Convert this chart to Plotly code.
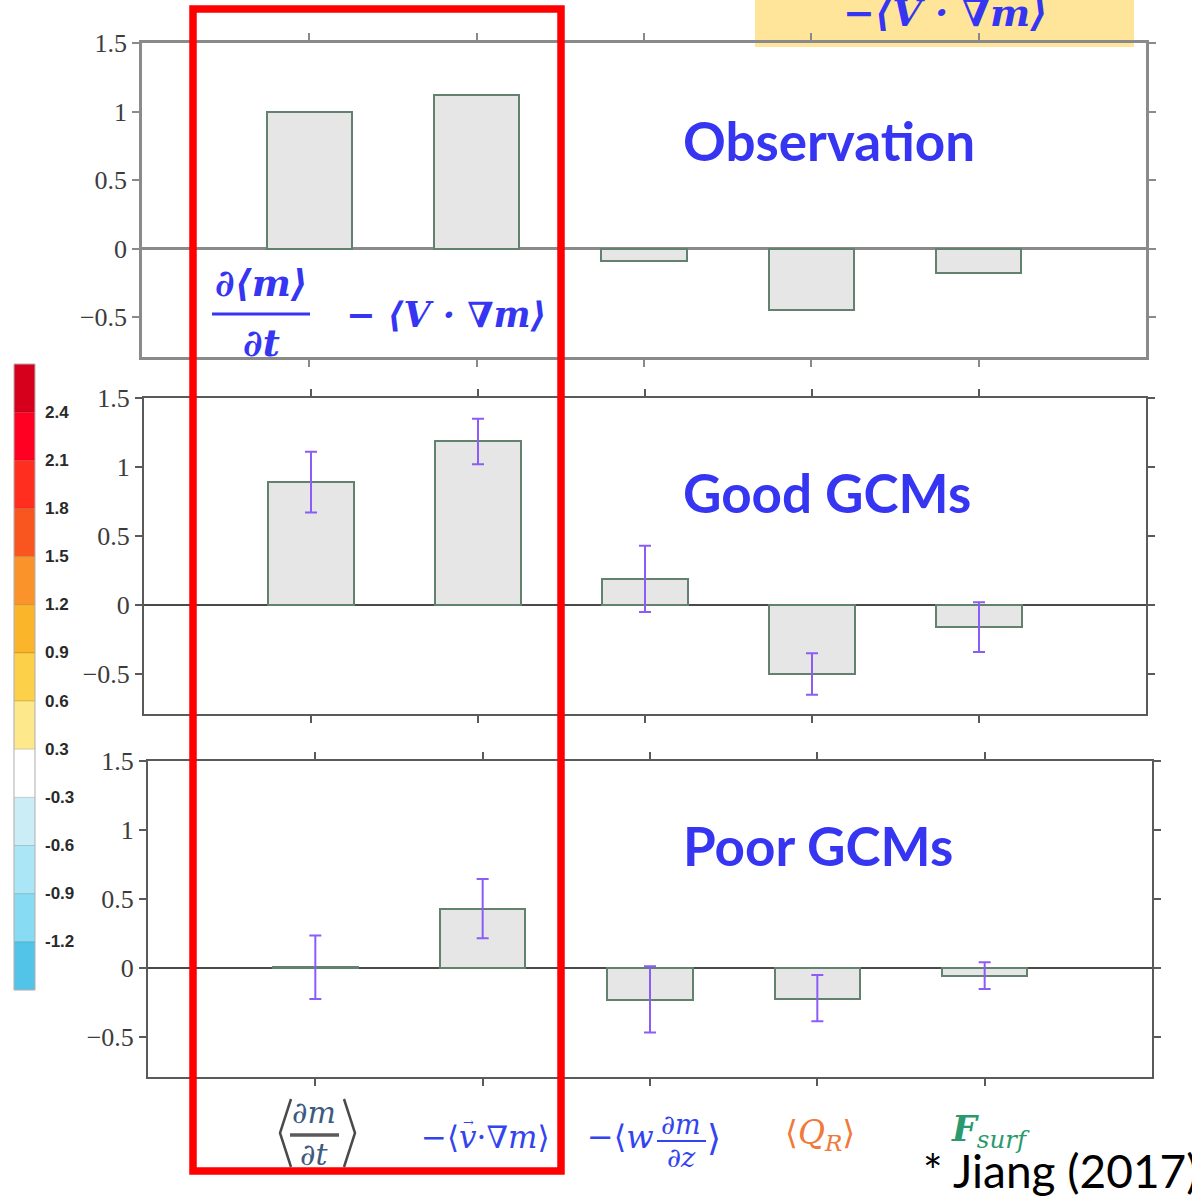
import plotly.graph_objects as go

W, H = 1192, 1197

# ---- data -------------------------------------------------------------
terms = [1, 2, 3, 4, 5]

obs_vals = [1.00, 1.12, -0.09, -0.445, -0.175]

good_vals = [0.89, 1.19, 0.19, -0.50, -0.16]
good_err_up = [0.22, 0.16, 0.24, 0.15, 0.18]
good_err_dn = [0.22, 0.17, 0.24, 0.15, 0.18]

poor_vals = [0.005, 0.43, -0.233, -0.226, -0.058]
poor_err_up = [0.23, 0.215, 0.245, 0.175, 0.10]
poor_err_dn = [0.23, 0.215, 0.235, 0.16, 0.095]

panel_names = ["Observation", "Good GCMs", "Poor GCMs"]

y_tickvals = [-0.5, 0, 0.5, 1, 1.5]
y_ticktext = ["\u22120.5", "0", "0.5", "1", "1.5"]

cbar_colors = ["#d6001c", "#ff0022", "#ff2e1f", "#f9561f", "#fa942a", "#fab52a",
               "#fdd04a", "#fde88c", "#ffffff", "#cbeef6", "#abe6f7", "#87dcf4", "#52c4e8"]
cbar_labels = ["2.4", "2.1", "1.8", "1.5", "1.2", "0.9", "0.6", "0.3",
               "-0.3", "-0.6", "-0.9", "-1.2"]


def px(x):
    return x / W


def py(y):
    return 1 - y / H


# ---- panels -------------------------------------------------------------
BAR_FILL = "#e6e6e6"
BAR_EDGE = "#62826f"
ERR_COLOR = "#8b5cf6"

fig = go.Figure()

panels = [
    dict(vals=obs_vals, up=None, dn=None, xdom=(142, 1146), ydom=(43, 357),
         axcol="#8a8a8a", axw=2.5, zcol="#8a8a8a", zw=3),
    dict(vals=good_vals, up=good_err_up, dn=good_err_dn, xdom=(144, 1146), ydom=(398, 714),
         axcol="#5a5a5a", axw=2, zcol="#4a4a4a", zw=2),
    dict(vals=poor_vals, up=poor_err_up, dn=poor_err_dn, xdom=(148, 1152), ydom=(761, 1077),
         axcol="#5a5a5a", axw=2, zcol="#4a4a4a", zw=2),
]

for i, p in enumerate(panels):
    sfx = "" if i == 0 else str(i + 1)
    err = None
    if p["up"] is not None:
        err = dict(type="data", symmetric=False, array=p["up"], arrayminus=p["dn"],
                   color=ERR_COLOR, thickness=2, width=6)
    fig.add_trace(go.Bar(
        x=terms, y=p["vals"], width=0.51, error_y=err,
        marker=dict(color=BAR_FILL, line=dict(color=BAR_EDGE, width=2)),
        xaxis="x" + sfx, yaxis="y" + sfx, showlegend=False,
    ))
    fig.update_layout(**{
        "xaxis" + sfx: dict(
            domain=[px(p["xdom"][0]), px(p["xdom"][1])], range=[0, 6],
            anchor="y" + sfx, tickvals=terms, showticklabels=False,
            ticks="outside", ticklen=7, tickwidth=2, tickcolor=p["axcol"],
            showline=True, linecolor=p["axcol"], linewidth=p["axw"], mirror="ticks",
            showgrid=False, zeroline=False, fixedrange=True, automargin=False,
        ),
        "yaxis" + sfx: dict(
            domain=[py(p["ydom"][1]), py(p["ydom"][0])], range=[-0.79, 1.5],
            anchor="x" + sfx, tickvals=y_tickvals, ticktext=y_ticktext,
            ticks="outside", ticklen=7, tickwidth=2, tickcolor=p["axcol"],
            showline=True, linecolor=p["axcol"], linewidth=p["axw"], mirror="ticks",
            showgrid=False, zeroline=True, zerolinecolor=p["zcol"], zerolinewidth=p["zw"],
            tickfont=dict(family="Liberation Serif", size=26, color="#3c3c3c"),
            fixedrange=True, automargin=False,
        ),
    })

annotations = []
shapes = []

BLUE = "#3535f2"
name_y = [142, 494, 847]
for name, yy in zip(panel_names, name_y):
    annotations.append(dict(
        x=px(681), y=py(yy - 2), xanchor="left",
        text="<b>" + name + "</b>",
        font=dict(family="Lato", size=53, color=BLUE),
    ))

# budget terms written in the observation panel
MATH = "DejaVu Serif"
annotations += [
    dict(x=px(261), y=py(283), text="<b><i>\u2202\u27e8m\u27e9</i></b>",
         font=dict(family=MATH, size=37, color=BLUE)),
    dict(x=px(261), y=py(343), text="<b><i>\u2202t</i></b>",
         font=dict(family=MATH, size=37, color=BLUE)),
    dict(x=px(446), y=py(315), text="<b><i>\u2212 \u27e8V \u00b7 \u2207m\u27e9</i></b>",
         font=dict(family=MATH, size=35, color=BLUE)),
    dict(x=px(945), y=py(12), text="<b><i>\u2212\u27e8V \u00b7 \u2207m\u27e9</i></b>",
         font=dict(family=MATH, size=38, color=BLUE)),
]
shapes.append(dict(type="line", xref="paper", yref="paper", x0=px(212), x1=px(310),
                   y0=py(314), y1=py(314), line=dict(color=BLUE, width=3)))

# highlighted term box in the top corner
shapes.insert(0, dict(type="rect", xref="paper", yref="paper", x0=px(755), x1=px(1134),
                      y0=py(47), y1=py(-2), fillcolor="#ffe599", line=dict(width=0),
                      layer="below"))

# x-axis term labels under the bottom panel
SLATE = "#3d5a80"
TERM_BLUE = "#3344ee"
annotations += [
    dict(x=px(314), y=py(1112), text="<i>\u2202m</i>", font=dict(family=MATH, size=30, color=SLATE)),
    dict(x=px(314), y=py(1154), text="<i>\u2202t</i>", font=dict(family=MATH, size=30, color=SLATE)),

    dict(x=px(485), y=py(1137), text="\u2212\u27e8<i>v</i>\u00b7<i>\u2207m</i>\u27e9",
         font=dict(family=MATH, size=31, color=TERM_BLUE)),
    dict(x=px(468), y=py(1122), text="\u2192", font=dict(family=MATH, size=13, color=TERM_BLUE)),

    dict(x=px(620), y=py(1137), text="\u2212\u27e8<i>w</i>",
         font=dict(family=MATH, size=32, color=TERM_BLUE)),
    dict(x=px(681), y=py(1124), text="<i>\u2202m</i>", font=dict(family=MATH, size=27, color=TERM_BLUE)),
    dict(x=px(681), y=py(1157), text="<i>\u2202z</i>", font=dict(family=MATH, size=27, color=TERM_BLUE)),
    dict(x=px(714), y=py(1137), text="\u27e9", font=dict(family=MATH, size=36, color=TERM_BLUE)),

    dict(x=px(820), y=py(1134), text="\u27e8<i>Q</i><sub><i>R</i></sub>\u27e9",
         font=dict(family=MATH, size=33, color="#f07a3a")),

    dict(x=px(990), y=py(1131), text="<b><i>F</i></b><sub><i>surf</i></sub>",
         font=dict(family=MATH, size=35, color="#2a9a6e")),
]
# fraction bars and tall angle brackets of the first term label
shapes += [
    dict(type="line", xref="paper", yref="paper", x0=px(290), x1=px(339),
         y0=py(1135), y1=py(1135), line=dict(color="#5a5a5a", width=3.5)),
    dict(type="line", xref="paper", yref="paper", x0=px(657), x1=px(706),
         y0=py(1141), y1=py(1141), line=dict(color=TERM_BLUE, width=2)),
    dict(type="path", xref="paper", yref="paper",
         path=f"M {px(291)} {py(1099)} L {px(280)} {py(1133)} L {px(291)} {py(1167)}",
         line=dict(color="#4a4a4a", width=2.5)),
    dict(type="path", xref="paper", yref="paper",
         path=f"M {px(344)} {py(1099)} L {px(355)} {py(1133)} L {px(344)} {py(1167)}",
         line=dict(color="#4a4a4a", width=2.5)),
]

for a in annotations:
    a.setdefault("xref", "paper")
    a.setdefault("yref", "paper")
    a.setdefault("showarrow", False)
    a.setdefault("xanchor", "center")
    a.setdefault("yanchor", "middle")

annotations.append(dict(
    x=px(1201), y=py(1170), xref="paper", yref="paper", xanchor="right", yanchor="middle",
    text="* Jiang (2017)", showarrow=False, font=dict(family="Lato", size=46, color="#000000"),
))

# colour bar on the left edge
cb_top, cb_bot, cb_x0, cb_x1 = 364, 990, 14, 35
n = len(cbar_colors)
step = (cb_bot - cb_top) / n
for k, c in enumerate(cbar_colors):
    shapes.append(dict(type="rect", xref="paper", yref="paper",
                       x0=px(cb_x0), x1=px(cb_x1),
                       y0=py(cb_top + (k + 1) * step), y1=py(cb_top + k * step),
                       fillcolor=c, line=dict(color="rgba(0,0,0,0.12)", width=1)))
for k, lab in enumerate(cbar_labels):
    yb = cb_top + (k + 1) * step
    annotations.append(dict(
        x=px(43), y=py(yb), xref="paper", yref="paper", xanchor="left", yanchor="middle",
        text=lab, showarrow=False,
        font=dict(family="Liberation Sans", size=17, color="#2a2a2a", weight="bold"),
    ))
shapes.append(dict(type="rect", xref="paper", yref="paper", x0=px(cb_x0), x1=px(cb_x1),
                   y0=py(cb_bot), y1=py(cb_top), line=dict(color="#bbbbbb", width=1)))

# red highlight around the first two terms
shapes.append(dict(type="rect", xref="paper", yref="paper", x0=px(193), x1=px(561),
                   y0=py(1171), y1=py(9), line=dict(color="#ff0000", width=7.5)))

fig.update_layout(
    width=W, height=H, margin=dict(l=0, r=0, t=0, b=0, autoexpand=False),
    paper_bgcolor="white", plot_bgcolor="white",
    shapes=shapes, annotations=annotations, bargap=0,
)

fig.write_html("out.html", config={"displayModeBar": False})
